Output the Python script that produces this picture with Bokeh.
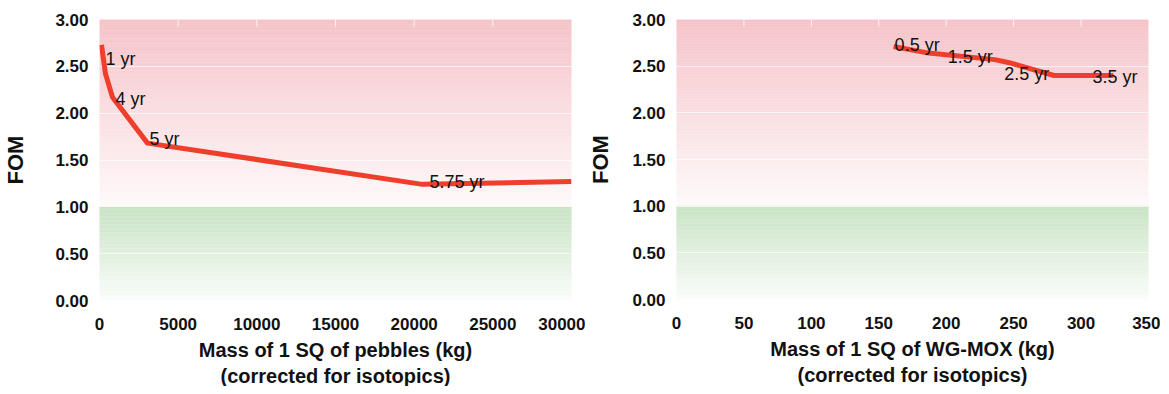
from bokeh.plotting import figure
from bokeh.layouts import row
from bokeh.models import ColumnDataSource, FixedTicker, NumeralTickFormatter, Range1d
from bokeh.core.properties import value
from bokeh.embed import file_html
from bokeh.resources import INLINE

# ---- data ----
pebble_mass = [127, 381, 826, 3050, 20530, 30000]
pebble_fom = [2.73, 2.42, 2.17, 1.68, 1.24, 1.27]
pebble_label_idx = [0, 2, 3, 4]
pebble_labels = ["1 yr", "4 yr", "5 yr", "5.75 yr"]

mox_mass = [161, 187, 236, 246, 280, 324]
mox_fom = [2.71, 2.64, 2.57, 2.54, 2.40, 2.40]
mox_label_idx = [0, 1, 3, 5]
mox_labels = ["0.5 yr", "1.5 yr", "2.5 yr", "3.5 yr"]

fom_ticks = [0.0, 0.5, 1.0, 1.5, 2.0, 2.5, 3.0]
pebble_ticks = [0, 5000, 10000, 15000, 20000, 25000, 30000]
mox_ticks = [0, 50, 100, 150, 200, 250, 300, 350]

# ---- styles ----
pebble_label_dx = [4, 3, 2, 7]
pebble_label_dy = [14, 2, -4, -2]
mox_label_dx = [1, 19, -4, -21]
mox_label_dy = [-2, 4, 12, 1]

FONT = "Liberation Sans"
LINE_COLOR = "#EE3F2C"


def lerp(c1, c2, t):
    return "#%02x%02x%02x" % tuple(int(round(a + (b - a) * t)) for a, b in zip(c1, c2))


def make_fig(xmax, xticks, xlabel, xs, ys, idx, labels, dx, dy, top, fh,
             left, right, ylab_standoff):
    p = figure(frame_width=472, frame_height=fh, output_backend="svg", toolbar_location=None,
               x_range=Range1d(0, xmax), y_range=Range1d(0, 3.0),
               min_border_left=left, min_border_right=right,
               min_border_top=top, min_border_bottom=85)
    p.outline_line_color = None
    p.background_fill_color = "white"

    # gradient background bands
    n = 70
    red_top = (245, 195, 201)
    red_bot = (254, 250, 250)
    grn_top = (200, 227, 196)
    grn_bot = (250, 253, 250)
    for i in range(n):
        y0 = 1.0 + 2.0 * i / n
        y1 = 1.0 + 2.0 * (i + 1) / n
        c = lerp(red_bot, red_top, (i + 0.5) / n)
        r = p.quad(left=0, right=xmax, bottom=y0, top=y1, fill_color=c, line_color=c, line_width=0.5)
        r.level = "image"
    for i in range(n):
        y0 = 1.0 * i / n
        y1 = 1.0 * (i + 1) / n
        c = lerp(grn_bot, grn_top, (i + 0.5) / n)
        r = p.quad(left=0, right=xmax, bottom=y0, top=y1, fill_color=c, line_color=c, line_width=0.5)
        r.level = "image"

    # short white tick marks along the top edge
    inner = xticks[1:-1]
    p.segment(x0=inner, x1=inner, y0=[3.0] * len(inner), y1=[2.925] * len(inner),
              line_color="white", line_alpha=0.8, line_width=1)

    p.line(xs, ys, line_color=LINE_COLOR, line_width=5, line_join="round")

    src = ColumnDataSource(dict(
        x=[xs[i] for i in idx], y=[ys[i] for i in idx], t=labels, dx=dx, dy=dy))
    p.text(x="x", y="y", text="t", source=src, x_offset="dx", y_offset="dy",
           text_font=value(FONT), text_font_size="18px", text_color="#111111",
           text_align="left", text_baseline="alphabetic")

    for ax in (p.xaxis[0], p.yaxis[0]):
        ax.axis_line_color = None
        ax.major_tick_line_color = None
        ax.minor_tick_line_color = None
        ax.major_tick_out = 0
        ax.major_tick_in = 0
        ax.minor_tick_out = 0
        ax.minor_tick_in = 0
        ax.major_label_text_font = FONT
        ax.major_label_text_font_style = "bold"
        ax.major_label_text_font_size = "17px"
        ax.major_label_text_color = "#111111"
        ax.axis_label_text_font = FONT
        ax.axis_label_text_font_style = "bold"
        ax.axis_label_text_color = "#111111"

    p.yaxis.ticker = FixedTicker(ticks=fom_ticks)
    p.yaxis.formatter = NumeralTickFormatter(format="0.00")
    p.yaxis.major_label_standoff = 11
    p.yaxis.axis_label = "FOM"
    p.yaxis.axis_label_text_font_size = "22px"
    p.yaxis.axis_label_standoff = ylab_standoff

    p.xaxis.ticker = FixedTicker(ticks=xticks)
    p.xaxis.formatter = NumeralTickFormatter(format="0")
    p.xaxis.major_label_standoff = 17
    p.xaxis.axis_label = xlabel
    p.xaxis.axis_label_text_font_size = "20px"
    p.xaxis.axis_label_standoff = 6

    p.xgrid.visible = False
    p.ygrid.ticker = FixedTicker(ticks=fom_ticks)
    g = p.ygrid[0]
    g.grid_line_color = "white"
    g.grid_line_alpha = 0.7
    g.grid_line_width = 1
    return p


p1 = make_fig(30000, pebble_ticks, "Mass of 1 SQ of pebbles (kg)\n(corrected for isotopics)",
              pebble_mass, pebble_fom, pebble_label_idx, pebble_labels,
              pebble_label_dx, pebble_label_dy, 16, 281, 99, 14, 24)
p2 = make_fig(350, mox_ticks, "Mass of 1 SQ of WG-MOX (kg)\n(corrected for isotopics)",
              mox_mass, mox_fom, mox_label_idx, mox_labels,
              mox_label_dx, mox_label_dy, 19, 280, 90, 12, 16)

layout = row(p1, p2, spacing=0)
open("out.html", "w").write(file_html(layout, INLINE))
